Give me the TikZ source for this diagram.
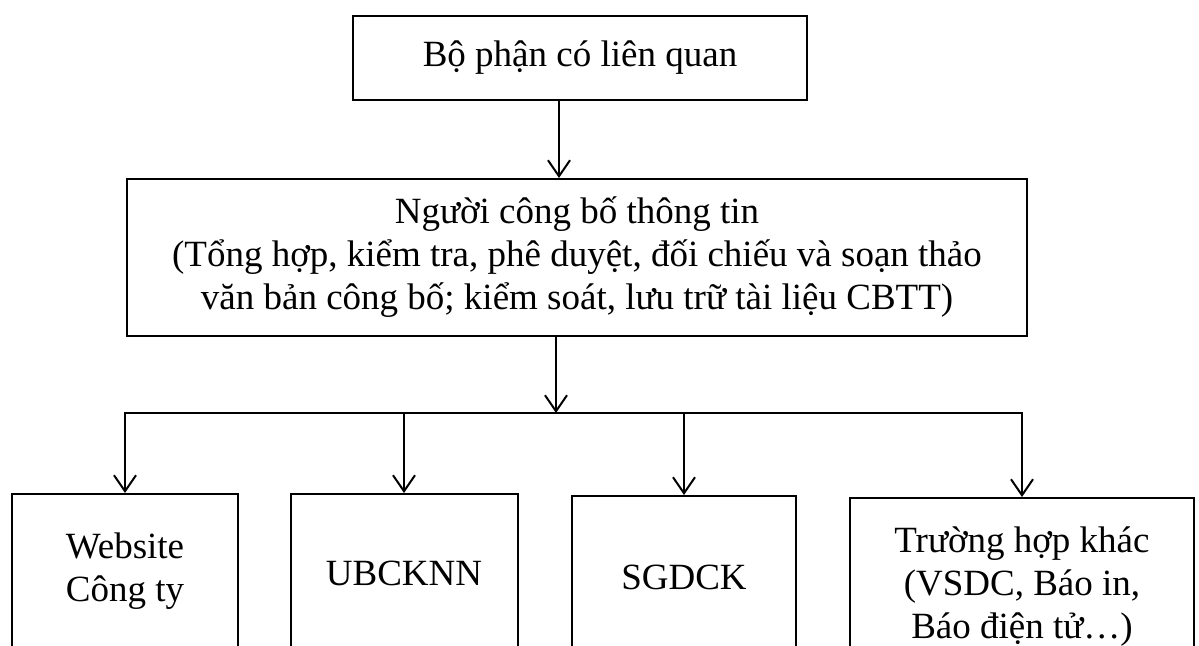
\documentclass[tikz,border=0pt]{standalone}
\usepackage{fontspec}
\setmainfont{Liberation Serif}
\usetikzlibrary{arrows.meta}
\begin{document}
\begin{tikzpicture}[x=1pt,y=-1pt,
  box/.style={draw, line width=2pt, align=center, inner sep=0pt, anchor=north,
    font=\fontsize{37}{43}\selectfont},
  tipv/.tip={Straight Barb[length=16pt,width=22pt,line width=2pt]},
  arr/.style={line width=2pt, -tipv},
  link/.style={line width=2pt, line join=miter}]
\useasboundingbox (0,0) rectangle (1199,645);
\fill[white] (0,0) rectangle (1199,645);
\clip (0,0) rectangle (1199,645);
\node[box, minimum width=454pt, minimum height=84pt] (top) at (580,15) {Bộ phận có liên quan};
\node[box, minimum width=900pt, minimum height=157pt] (mid) at (577,178)
  {Người công bố thông tin\\(Tổng hợp, kiểm tra, phê duyệt, đối chiếu và soạn thảo\\văn bản công bố; kiểm soát, lưu trữ tài liệu CBTT)};
\node[box, minimum width=226pt, minimum height=154pt] (b1) at (125,493) {Website\\Công ty};
\node[box, minimum width=227pt, minimum height=158pt] (b2) at (404,493) {UBCKNN};
\node[box, minimum width=224pt, minimum height=162pt] (b3) at (684,495) {SGDCK};
\node[box, minimum width=344pt, minimum height=178pt] (b4) at (1022,497) {Trường hợp khác\\(VSDC, Báo in,\\Báo điện tử…)};
\coordinate (c1) at (559,0);
\coordinate (bus) at (556,413);
\draw[arr] (top.south -| c1) -- (mid.north -| c1);
\draw[arr] (mid.south -| bus) -- (bus);
\draw[link, tipv-tipv] (b1.north) -- (b1.north |- bus) -- (b4.north |- bus) -- (b4.north);
\draw[arr] (b2.north |- bus) -- (b2.north);
\draw[arr] (b3.north |- bus) -- (b3.north);
\end{tikzpicture}
\end{document}
